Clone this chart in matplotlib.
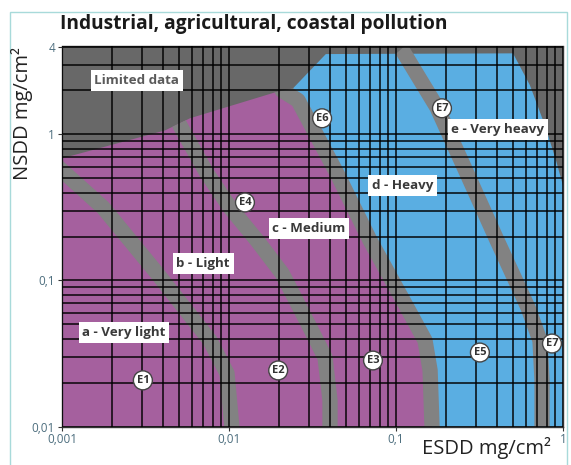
import matplotlib
matplotlib.use("Agg")
import matplotlib.pyplot as plt
from matplotlib.patches import Polygon, Rectangle
from matplotlib.ticker import LogLocator, NullFormatter
import numpy as np

# ---------------- data ----------------
x_ticks = [0.001, 0.01, 0.1, 1]
x_tick_labels = ["0,001", "0,01", "0,1", "1"]
y_ticks = [0.01, 0.1, 1, 4]
y_tick_labels = ["0,01", "0,1", "1", "4"]

# purple zone (a, b, c)  (ESDD, NSDD)
purple_esdd = [0.001, 0.001, 0.00414, 0.00584, 0.01885, 0.0200, 0.0259, 0.0443, 0.0699, 0.1164, 0.1492, 0.160, 0.1643]
purple_nsdd = [0.01, 0.686, 1.065, 1.29, 1.94, 1.97, 1.71, 0.541, 0.188, 0.0653, 0.0388, 0.0242, 0.01]

# blue zone (d, e)
blue_esdd = [0.0242, 0.038, 0.502, 0.634, 0.780, 0.908, 1.0, 1.0, 0.1643, 0.160, 0.1492, 0.1164, 0.0699, 0.0443, 0.0259]
blue_nsdd = [2.07, 3.55, 3.59, 2.17, 1.15, 0.664, 0.447, 0.01, 0.01, 0.0242, 0.0388, 0.0653, 0.188, 0.541, 1.71]

# outline of the whole measured region (used to clip the boundary bands)
region_esdd = [0.001, 0.001, 0.00414, 0.00584, 0.01885, 0.0242, 0.038, 0.10, 0.12, 0.502, 0.634, 0.780, 0.908, 1.0, 1.0]
region_nsdd = [0.01, 0.686, 1.065, 1.29, 1.94, 2.07, 3.55, 3.57, 4.3, 3.59, 2.17, 1.15, 0.664, 0.447, 0.01]

# boundary bands between zones
band_ab_esdd = [0.00079, 0.001, 0.00176, 0.00371, 0.00769, 0.00973, 0.0104, 0.0105]
band_ab_nsdd = [0.72, 0.566, 0.316, 0.112, 0.0388, 0.0231, 0.0100, 0.008]

band_bc_esdd = [0.0046, 0.00509, 0.00738, 0.01014, 0.01471, 0.02077, 0.02972, 0.03758, 0.04025, 0.04025]
band_bc_nsdd = [1.5, 1.15, 0.541, 0.316, 0.188, 0.112, 0.0507, 0.0297, 0.0151, 0.008]

band_cd_esdd = [0.018, 0.0208, 0.0259, 0.0443, 0.0699, 0.1164, 0.1492, 0.160, 0.1643, 0.1643]
band_cd_nsdd = [2.6, 2.0, 1.71, 0.541, 0.188, 0.0653, 0.0388, 0.0242, 0.0100, 0.008]

band_de_esdd = [0.098, 0.1057, 0.176, 0.266, 0.403, 0.617, 0.728, 0.749, 0.749]
band_de_nsdd = [5.0, 4.0, 1.53, 0.541, 0.188, 0.0653, 0.0388, 0.0207, 0.008]

# zone labels
zone_labels = ["Limited data", "a - Very light", "b - Light", "c - Medium", "d - Heavy", "e - Very heavy"]
zone_esdd = [0.00281, 0.00235, 0.00699, 0.0301, 0.110, 0.408]
zone_nsdd = [2.34, 0.044, 0.131, 0.227, 0.447, 1.08]

# site markers
site_labels = ["E1", "E2", "E3", "E4", "E5", "E6", "E7", "E7"]
site_esdd = [0.00305, 0.0197, 0.0728, 0.01246, 0.318, 0.0361, 0.1885, 0.859]
site_nsdd = [0.0207, 0.0242, 0.0283, 0.342, 0.0321, 1.29, 1.51, 0.037]

# ---------------- style ----------------
BG_GREY = "#686868"
BAND_GREY = "#828282"
PURPLE = "#a5609e"
BLUE = "#5aaee2"
FONT = ["Open Sans", "DejaVu Sans"]

W, H = 571, 465
fig = plt.figure(figsize=(W / 100, H / 100), dpi=100)
fig.patch.set_facecolor("white")
ax = fig.add_axes([62 / W, 1 - 426.5 / H, (563 - 62) / W, (426.5 - 46.5) / H])
ax.set_xscale("log")
ax.set_yscale("log")
ax.set_xlim(0.001, 1)
ax.set_ylim(0.01, 4)
ax.set_facecolor(BG_GREY)

ax.add_patch(Polygon(list(zip(blue_esdd, blue_nsdd)), closed=True, fc=BLUE, ec="none", zorder=1))
ax.add_patch(Polygon(list(zip(purple_esdd, purple_nsdd)), closed=True, fc=PURPLE, ec="none", zorder=1.1))

clip = Polygon(list(zip(region_esdd, region_nsdd)), closed=True, transform=ax.transData)
for bx, by in [(band_ab_esdd, band_ab_nsdd), (band_bc_esdd, band_bc_nsdd),
               (band_cd_esdd, band_cd_nsdd), (band_de_esdd, band_de_nsdd)]:
    ln, = ax.plot(bx, by, color=BAND_GREY, lw=11, solid_capstyle="butt",
                  solid_joinstyle="round", zorder=2)
    ln.set_clip_path(clip)

# grid
ax.set_axisbelow(False)
ax.set_xticks(x_ticks, x_tick_labels)
ax.set_yticks(y_ticks, y_tick_labels)
ax.xaxis.set_minor_locator(LogLocator(base=10, subs=np.arange(2, 10), numticks=20))
ax.yaxis.set_minor_locator(LogLocator(base=10, subs=np.arange(2, 10), numticks=20))
ax.xaxis.set_minor_formatter(NullFormatter())
ax.yaxis.set_minor_formatter(NullFormatter())
ax.grid(True, which="both", color="black", alpha=0.78, lw=1.35)
ax.tick_params(which="minor", length=0)
ax.tick_params(which="major", length=3, color="#333333", labelsize=8.5,
               labelcolor="#4d6e7e", pad=2)
for lab in ax.get_xticklabels() + ax.get_yticklabels():
    lab.set_fontfamily(FONT)
for s in ax.spines.values():
    s.set_color("#333333")
    s.set_linewidth(1)

# zone labels
for t, x, y in zip(zone_labels, zone_esdd, zone_nsdd):
    ax.text(x, y, t, ha="center", va="center", fontsize=9.6, fontweight="bold",
            family=FONT, color="#3a3a3a" if t != "Limited data" else "#5a5a5a", zorder=5,
            bbox=dict(boxstyle="square,pad=0.28", fc="white", ec="none"))

# site markers
for t, x, y in zip(site_labels, site_esdd, site_nsdd):
    ax.text(x, y, t, ha="center", va="center", fontsize=8, fontweight="bold",
            family=FONT, color="#333333", zorder=6,
            bbox=dict(boxstyle="circle,pad=0.28", fc="white", ec="#444444", lw=1.0))

# titles / axis labels
fig.text(60 / W, 1 - 24 / H, "Industrial, agricultural, coastal pollution", ha="left",
         va="center", fontsize=13.8, fontweight="bold", family=FONT, color="#1a1a1a")
fig.text(22 / W, 1 - 114 / H, "NSDD mg/cm²", rotation=90, ha="center", va="center",
         fontsize=14.5, family=FONT, color="#222222")
fig.text(487 / W, 1 - 448 / H, "ESDD mg/cm²", ha="center", va="center",
         fontsize=14.5, family=FONT, color="#222222")

# outer frame
fig.add_artist(Rectangle((10 / W, -0.05), (567 - 10) / W, 1.05 - 12 / H, transform=fig.transFigure,
                         fill=False, ec="#a8dada", lw=1))

fig.savefig("out.png", dpi=100, facecolor="white")
